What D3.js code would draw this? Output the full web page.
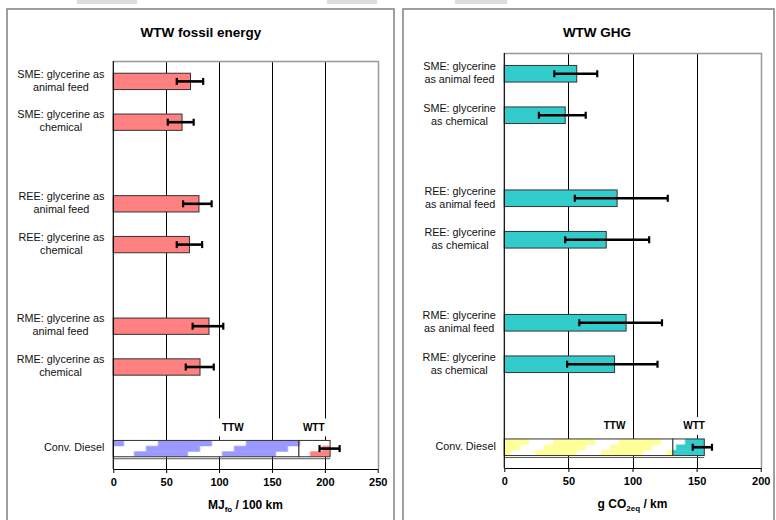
<!DOCTYPE html>
<html>
<head>
<meta charset="utf-8">
<script src="https://cdn.jsdelivr.net/npm/d3@7"></script>
<style>
  body { margin: 0; background: #fff; }
  svg { display: block; font-family: "Liberation Sans", Arial, sans-serif; }
</style>
</head>
<body>
<svg id="chart" width="776" height="520"></svg>
<script>
// Category slots (empty "gap" slots separate the feedstock groups)
const slots = ["SME-feed", "SME-chem", "gap-1", "REE-feed", "REE-chem", "gap-2", "RME-feed", "RME-chem", "gap-3", "Diesel"];
const biodieselKeys = ["SME-feed", "SME-chem", "REE-feed", "REE-chem", "RME-feed", "RME-chem"];

const energyLabels = [
  ["SME: glycerine as", "animal feed"],
  ["SME: glycerine as", "chemical"],
  ["REE: glycerine as", "animal feed"],
  ["REE: glycerine as", "chemical"],
  ["RME: glycerine as", "animal feed"],
  ["RME: glycerine as", "chemical"]
];
const ghgLabels = [
  ["SME: glycerine", "as animal feed"],
  ["SME: glycerine", "as chemical"],
  ["REE: glycerine", "as animal feed"],
  ["REE: glycerine", "as chemical"],
  ["RME: glycerine", "as animal feed"],
  ["RME: glycerine", "as chemical"]
];
const dieselLabel = "Conv. Diesel";

// WTW fossil energy, MJ_fo / 100 km
const energyValues = [73, 65, 81, 72, 90.5, 82];
const energyLow    = [60, 51.5, 66, 60, 75, 68.5];
const energyHigh   = [85, 76, 93, 84, 104, 95];
const dieselEnergyParts = [175.5, 29.5];   // TTW, WTT
const dieselEnergyRange = [195, 214];

// WTW GHG, g CO2eq / km
const ghgValues = [56.5, 47.5, 88, 79.5, 95, 86];
const ghgLow    = [39, 27, 55, 47.5, 58.5, 49];
const ghgHigh   = [72.5, 63.5, 127.5, 113, 123, 119.5];
const dieselGhgParts = [131.5, 24.5];      // TTW, WTT
const dieselGhgRange = [147, 162];

const energyTicks = [0, 50, 100, 150, 200, 250];
const ghgTicks = [0, 50, 100, 150, 200];

const stageNames = ["TTW", "WTT"];
const energyStageAt = [113, 189.5];
const ghgStageAt = [86, 148];

const svg = d3.select("#chart");
const defs = svg.append("defs");

// faint remnants of the text line above the figures
[[77, 60], [327, 50], [455, 52]].forEach(([x, w]) => {
  svg.append("rect").attr("x", x).attr("y", 0).attr("width", w).attr("height", 4)
    .attr("fill", "#dcdcdc");
});

// Stepped diagonal hatch used for the conventional diesel bar
function stepPattern(id, color, originX, originY, h, period, band, shift, offset) {
  const p = defs.append("pattern").attr("id", id)
    .attr("patternUnits", "userSpaceOnUse")
    .attr("x", originX).attr("y", originY)
    .attr("width", period).attr("height", h);
  p.append("rect").attr("width", period).attr("height", h).attr("fill", "#fff");
  const rh = h / 3;
  for (let i = 0; i < 3; i++) {
    for (let k = -1; k <= 1; k++) {
      p.append("rect")
        .attr("x", offset - i * shift + k * period)
        .attr("y", i * rh)
        .attr("width", band)
        .attr("height", rh + 0.4)
        .attr("fill", color);
    }
  }
  return "url(#" + id + ")";
}

function drawPanel(cfg) {
  const g = svg.append("g");

  // panel frame
  g.append("rect")
    .attr("x", cfg.frame[0]).attr("y", cfg.frame[1])
    .attr("width", cfg.frame[2]).attr("height", 540)
    .attr("fill", "none").attr("stroke", "#808080").attr("stroke-width", 1.5);

  g.append("text")
    .attr("x", cfg.titleX).attr("y", 37)
    .attr("text-anchor", "middle")
    .attr("font-size", 13.5).attr("font-weight", "bold")
    .text(cfg.title);

  const x = d3.scaleLinear().domain([0, cfg.max]).range([cfg.left, cfg.right]);
  const y = d3.scaleBand().domain(slots).range([cfg.top, cfg.bottom])
    .paddingInner(0.6).paddingOuter(0.3);
  const bh = y.bandwidth();

  // vertical gridlines
  g.append("g").selectAll("line")
    .data(cfg.ticks.filter(t => t > 0 && t < cfg.max))
    .join("line")
    .attr("x1", d => Math.round(x(d)) + 0.5).attr("x2", d => Math.round(x(d)) + 0.5)
    .attr("y1", cfg.top).attr("y2", cfg.bottom)
    .attr("stroke", "#000").attr("stroke-width", 1);

  // plot area border (top & right)
  g.append("path")
    .attr("d", `M${cfg.left},${cfg.top + 0.5}H${Math.round(x(cfg.max)) + 0.5}V${cfg.bottom}`)
    .attr("fill", "none").attr("stroke", "#999").attr("stroke-width", 1.5);

  // TTW / WTT labels with white backing
  const dTop = y("Diesel");
  cfg.stageAt.forEach((v, i) => {
    const lg = g.append("g");
    const t = lg.append("text")
      .attr("x", x(v)).attr("y", dTop - 13)
      .attr("dy", "0.35em")
      .attr("text-anchor", "middle")
      .attr("font-size", 10).attr("font-weight", "bold")
      .text(stageNames[i]);
    const w = t.node().getComputedTextLength();
    lg.insert("rect", "text")
      .attr("x", x(v) - w / 2 - 5).attr("y", dTop - 22)
      .attr("width", w + 10).attr("height", 18)
      .attr("fill", "#fff");
  });

  // biodiesel bars
  g.append("g").selectAll("rect")
    .data(biodieselKeys)
    .join("rect")
    .attr("x", x(0))
    .attr("y", d => y(d))
    .attr("width", (d, i) => x(cfg.values[i]) - x(0))
    .attr("height", bh)
    .attr("fill", cfg.color)
    .attr("stroke", "#333").attr("stroke-width", 1);

  // conventional diesel: stacked TTW + WTT with hatch fills
  const ttwFill = stepPattern(cfg.id + "-ttw", cfg.ttwColor, x(0), dTop, bh, cfg.hatch[0], cfg.hatch[1], cfg.hatch[2], cfg.hatch[3]);
  const wttFill = stepPattern(cfg.id + "-wtt", cfg.wttColor, x(0), dTop, bh, cfg.hatch[0], cfg.hatch[1], cfg.hatch[2], cfg.hatch[3]);
  const stack = [[0, cfg.dieselParts[0]], [cfg.dieselParts[0], cfg.dieselParts[0] + cfg.dieselParts[1]]];
  g.append("g").selectAll("rect")
    .data(stack)
    .join("rect")
    .attr("x", d => x(d[0]))
    .attr("y", dTop)
    .attr("width", d => x(d[1]) - x(d[0]))
    .attr("height", bh)
    .attr("fill", (d, i) => i === 0 ? ttwFill : wttFill)
    .attr("stroke", "#333").attr("stroke-width", 1);
  g.append("line")
    .attr("x1", x(0)).attr("x2", x(stack[1][1]))
    .attr("y1", dTop + bh + 2).attr("y2", dTop + bh + 2)
    .attr("stroke", "#555").attr("stroke-width", 1);

  // error bars
  const errs = biodieselKeys.map((k, i) => ({ key: k, lo: cfg.low[i], hi: cfg.high[i] }));
  errs.push({ key: "Diesel", lo: cfg.dieselRange[0], hi: cfg.dieselRange[1] });
  const eg = g.append("g").attr("stroke", "#000").attr("stroke-width", 2.6);
  errs.forEach(e => {
    const cy = y(e.key) + bh / 2;
    eg.append("line").attr("x1", x(e.lo)).attr("x2", x(e.hi)).attr("y1", cy).attr("y2", cy);
    [e.lo, e.hi].forEach(v => {
      eg.append("line").attr("x1", x(v)).attr("x2", x(v)).attr("y1", cy - 3.5).attr("y2", cy + 3.5)
        .attr("stroke-width", 2.2);
    });
  });

  // category axis line
  g.append("line")
    .attr("x1", x(0)).attr("x2", x(0))
    .attr("y1", cfg.top).attr("y2", cfg.bottom)
    .attr("stroke", "#000").attr("stroke-width", 1.2);

  // category labels: wrapped lines centred within a right-aligned block
  const labelSets = biodieselKeys.map((k, i) => ({ key: k, lines: cfg.labels[i] }));
  labelSets.push({ key: "Diesel", lines: [dieselLabel] });
  const xr = x(0) - cfg.labelGap;
  labelSets.forEach(s => {
    const cy = y(s.key) + bh / 2 - 1;
    const ts = s.lines.map((ln, j) =>
      g.append("text")
        .attr("y", cy + (j - (s.lines.length - 1) / 2) * 13)
        .attr("dy", "0.35em")
        .attr("text-anchor", "middle")
        .attr("font-size", 10.8)
        .attr("fill", "#111")
        .text(ln));
    const widths = ts.map(t => t.node().getComputedTextLength());
    const bw = Math.max(...widths);
    ts.forEach(t => t.attr("x", xr - bw / 2));
  });

  // value axis
  const axis = g.append("g")
    .attr("transform", `translate(0,${cfg.bottom})`)
    .call(d3.axisBottom(x).tickValues(cfg.ticks).tickSizeInner(4).tickSizeOuter(0).tickPadding(5));
  axis.select(".domain").attr("stroke", "#000").attr("stroke-width", 1.2);
  axis.selectAll(".tick line").attr("stroke", "#000");
  axis.selectAll(".tick text")
    .attr("font-family", "Liberation Sans, Arial, sans-serif")
    .attr("font-size", 11).attr("font-weight", "bold").attr("fill", "#000");

  // axis title with subscript
  const at = g.append("text")
    .attr("x", (cfg.left + cfg.right) / 2).attr("y", cfg.bottom + 40)
    .attr("text-anchor", "middle")
    .attr("font-size", 12).attr("font-weight", "bold");
  at.append("tspan").text(cfg.unit[0]);
  at.append("tspan").attr("font-size", 8).attr("dy", 3).text(cfg.unit[1]);
  at.append("tspan").attr("dy", -3).text(cfg.unit[2]);
}

drawPanel({
  id: "energy",
  title: "WTW fossil energy",
  frame: [7, 9, 387],
  titleX: 201,
  left: 113.3, right: 377.7, top: 61, bottom: 469,
  max: 250, ticks: energyTicks,
  values: energyValues, low: energyLow, high: energyHigh,
  dieselParts: dieselEnergyParts, dieselRange: dieselEnergyRange,
  labels: energyLabels, labelGap: 9,
  color: "#ff8080", ttwColor: "#9999ff", wttColor: "#ff8080",
  hatch: [88, 54, 12, 44.7],
  stageAt: energyStageAt,
  unit: ["MJ", "fo", " / 100 km"]
});

drawPanel({
  id: "ghg",
  title: "WTW GHG",
  frame: [403, 9, 371],
  titleX: 597,
  left: 504.3, right: 760.7, top: 53, bottom: 468,
  max: 200, ticks: ghgTicks,
  values: ghgValues, low: ghgLow, high: ghgHigh,
  dieselParts: dieselGhgParts, dieselRange: dieselGhgRange,
  labels: ghgLabels, labelGap: 8.5,
  color: "#33cccc", ttwColor: "#ffff99", wttColor: "#33cccc",
  hatch: [66, 42, 9, 48.7],
  stageAt: ghgStageAt,
  unit: ["g CO", "2eq", " /  km"]
});
</script>
</body>
</html>
